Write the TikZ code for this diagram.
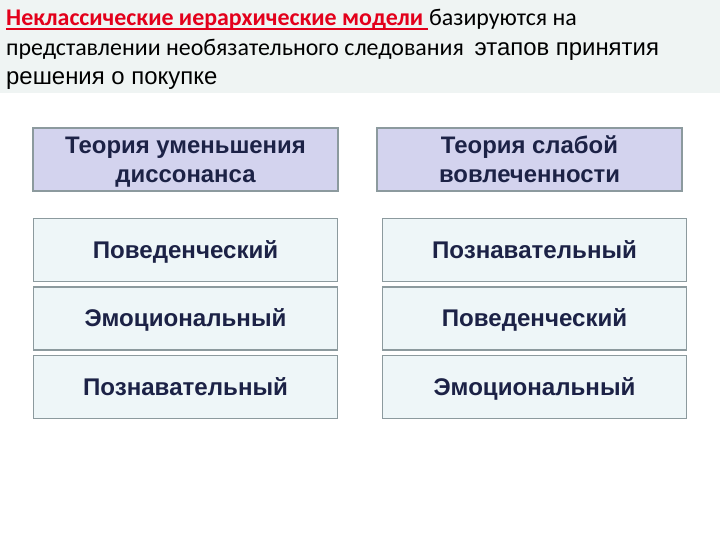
\documentclass[tikz,border=0pt]{standalone}
\usepackage{fontspec}
\setmainfont{Carlito}
\newfontfamily\arialfont{Liberation Sans}
\usepackage{xcolor}
\usepackage{tikz}
\usetikzlibrary{positioning}

\definecolor{bandgray}{HTML}{EFF4F3}
\definecolor{titlered}{HTML}{E3001B}
\definecolor{lavender}{HTML}{D3D3EE}
\definecolor{cellfill}{HTML}{EEF6F8}
\definecolor{edgegray}{HTML}{8C9A9E}
\definecolor{navytext}{HTML}{1C2246}

\begin{document}
\begin{tikzpicture}[
    x=1bp, y=1bp,
    node distance=26bp,
    titleline/.style={anchor=base west, inner sep=0pt, font=\fontsize{24}{29}\selectfont},
    theory/.style={rectangle, draw=edgegray, line width=1.5bp, fill=lavender, minimum width=305bp, minimum height=63bp, inner sep=0pt, align=center, text depth=-4bp, text=navytext, font=\arialfont\bfseries\fontsize{24}{29}\selectfont},
    stage/.style={rectangle, draw=edgegray, line width=1.5bp, fill=cellfill, minimum width=304bp, minimum height=63bp, inner sep=0pt, text height=18bp, text depth=2bp, text=navytext, font=\arialfont\bfseries\fontsize{24.2}{29}\selectfont}
]
    \useasboundingbox (0,0) rectangle (720,-540);

    % Title band
    \fill[bandgray] (0,0) rectangle (720,-93);
    \node[titleline, text=titlered, font=\fontsize{24}{29}\selectfont\bfseries] (models) at (6,-26) {Неклассические иерархические модели};
    \draw[titlered, line width=1.6bp] ([yshift=-2.8bp]models.base west) -- ([xshift=5bp, yshift=-2.8bp]models.base east);
    \node[titleline] (title1) at ([xshift=5.5bp]models.base east) {базируются на};
    \node[titleline] (title2) at (6,-56) {представлении необязательного следования \ {\arialfont этапов принятия}};
    \node[titleline] (title3) at (6,-85) {\arialfont решения о покупке};

    % Theories
    \node[theory] (dissonance) at (185.5,-159.5) {Теория уменьшения\\диссонанса};
    \node[theory] (involvement) at (529.5,-159.5) {Теория слабой\\вовлеченности};

    % Stages
    \node[stage, below=of dissonance] (d1) {Поведенческий};
    \node[stage, below=4bp of d1] (d2) {Эмоциональный};
    \node[stage, below=4bp of d2] (d3) {Познавательный};

    \node[stage, below=of involvement, xshift=5bp] (i1) {Познавательный};
    \node[stage, below=4bp of i1] (i2) {Поведенческий};
    \node[stage, below=4bp of i2] (i3) {Эмоциональный};
\end{tikzpicture}
\end{document}
